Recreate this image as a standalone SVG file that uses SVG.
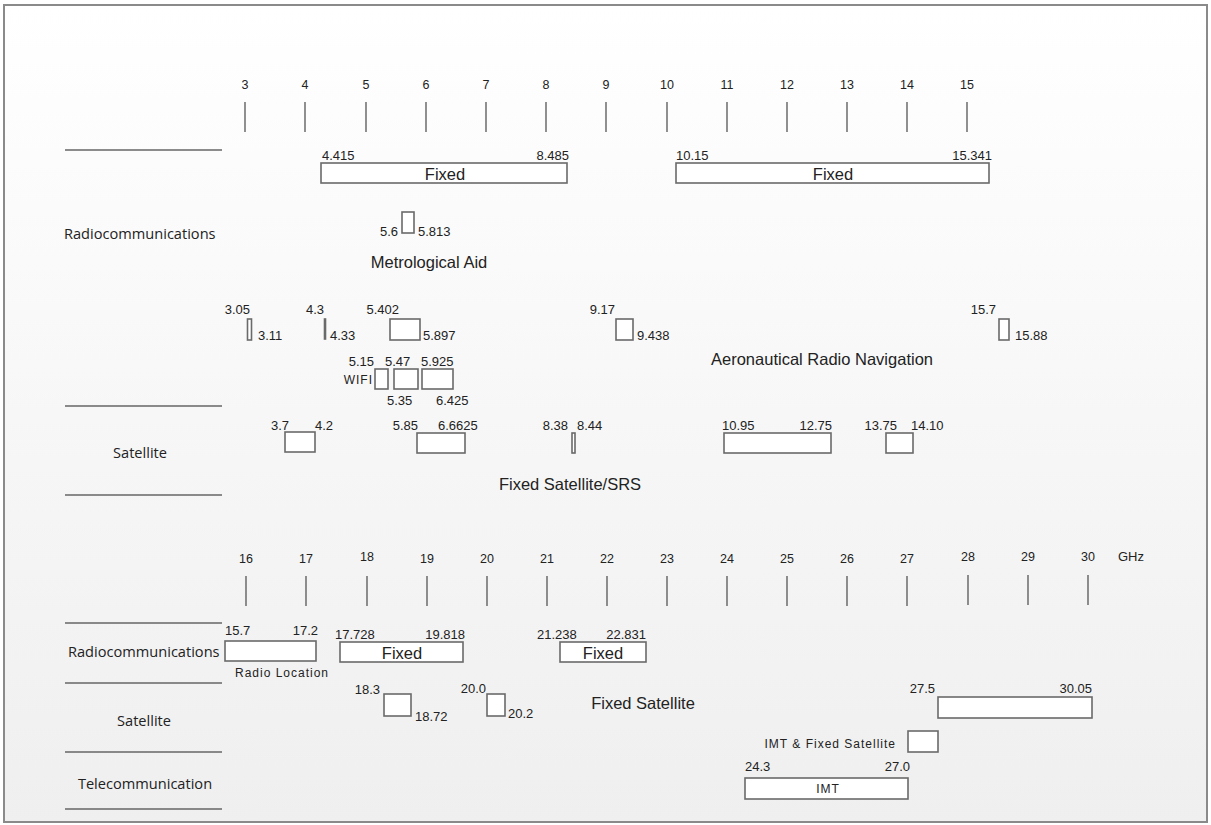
<svg xmlns="http://www.w3.org/2000/svg" width="1211" height="825" viewBox="0 0 1211 825">
<defs>
<linearGradient id="bg" x1="0" y1="0" x2="0" y2="1">
<stop offset="0" stop-color="#ffffff"/>
<stop offset="1" stop-color="#efefef"/>
</linearGradient>
<style>
.frame{fill:url(#bg);stroke:#8a8a8a;stroke-width:2}
.tick{stroke:#555;stroke-width:1.3}
.sep{stroke:#666;stroke-width:1.5}
.band{fill:#fff;stroke:#6a6a6a;stroke-width:1.6}
.n{font-family:"Liberation Sans",Arial,sans-serif;font-size:13px;fill:#222}
.ax{font-family:"Liberation Sans",Arial,sans-serif;font-size:12.5px;fill:#222;text-anchor:middle}
.cat{font-family:"Open Sans","DejaVu Sans",sans-serif;font-size:14.6px;fill:#222}
.lbl{font-family:"Liberation Sans",Arial,sans-serif;font-size:16.5px;fill:#222;text-anchor:middle}
.sm{font-family:"Liberation Sans",Arial,sans-serif;font-size:12px;letter-spacing:1px;fill:#222}
</style>
</defs>
<rect class="frame" x="4" y="5" width="1203" height="817"/>

<g id="axis-top">
<g class="ax">
<text x="245" y="89">3</text><text x="305" y="89">4</text><text x="366" y="89">5</text><text x="426" y="89">6</text><text x="486" y="89">7</text><text x="546" y="89">8</text><text x="606" y="89">9</text><text x="667" y="89">10</text><text x="727" y="89">11</text><text x="787" y="89">12</text><text x="847" y="89">13</text><text x="907" y="89">14</text><text x="967" y="89">15</text>
</g>
<g class="tick">
<line x1="245" y1="102" x2="245" y2="132"/><line x1="305" y1="102" x2="305" y2="132"/><line x1="366" y1="102" x2="366" y2="132"/><line x1="426" y1="102" x2="426" y2="132"/><line x1="486" y1="102" x2="486" y2="132"/><line x1="546" y1="102" x2="546" y2="132"/><line x1="606" y1="102" x2="606" y2="132"/><line x1="667" y1="102" x2="667" y2="132"/><line x1="727" y1="102" x2="727" y2="132"/><line x1="787" y1="102" x2="787" y2="132"/><line x1="847" y1="102" x2="847" y2="132"/><line x1="907" y1="102" x2="907" y2="132"/><line x1="967" y1="102" x2="967" y2="132"/>
</g>
</g>

<g id="axis-bottom">
<g class="ax">
<text x="246" y="563">16</text><text x="306" y="563">17</text><text x="367" y="561">18</text><text x="427" y="563">19</text><text x="487" y="563">20</text><text x="547" y="563">21</text><text x="607" y="563">22</text><text x="667" y="563">23</text><text x="727" y="563">24</text><text x="787" y="563">25</text><text x="847" y="563">26</text><text x="907" y="563">27</text><text x="968" y="561">28</text><text x="1028" y="561">29</text><text x="1088" y="561">30</text>
</g>
<text class="n" x="1118" y="561" font-size="12.5">GHz</text>
<g class="tick">
<line x1="246" y1="576" x2="246" y2="606"/><line x1="306" y1="576" x2="306" y2="606"/><line x1="367" y1="576" x2="367" y2="606"/><line x1="427" y1="576" x2="427" y2="606"/><line x1="487" y1="576" x2="487" y2="606"/><line x1="547" y1="576" x2="547" y2="606"/><line x1="607" y1="576" x2="607" y2="606"/><line x1="667" y1="576" x2="667" y2="606"/><line x1="727" y1="576" x2="727" y2="606"/><line x1="787" y1="576" x2="787" y2="606"/><line x1="847" y1="576" x2="847" y2="606"/><line x1="907" y1="576" x2="907" y2="606"/><line x1="968" y1="575" x2="968" y2="605"/><line x1="1028" y1="575" x2="1028" y2="605"/><line x1="1088" y1="575" x2="1088" y2="605"/>
</g>
</g>

<g id="categories">
<g class="sep">
<line x1="65" y1="150" x2="222" y2="150"/>
<line x1="65" y1="406" x2="222" y2="406"/>
<line x1="65" y1="495" x2="222" y2="495"/>
<line x1="65" y1="623" x2="222" y2="623"/>
<line x1="65" y1="683" x2="222" y2="683"/>
<line x1="65" y1="752" x2="222" y2="752"/>
<line x1="65" y1="809" x2="222" y2="809"/>
</g>
<text class="cat" x="64" y="239">Radiocommunications</text>
<text class="cat" x="140" y="458" text-anchor="middle">Satellite</text>
<text class="cat" x="68" y="657">Radiocommunications</text>
<text class="cat" x="144" y="726" text-anchor="middle">Satellite</text>
<text class="cat" x="145" y="789" text-anchor="middle">Telecommunication</text>
</g>

<g id="fixed-1">
<rect class="band" x="321" y="163" width="246" height="20"/>
<text class="n" x="322" y="160">4.415</text><text class="n" x="569" y="160" text-anchor="end">8.485</text>
<text class="lbl" x="445" y="180">Fixed</text>
</g>
<g id="fixed-2">
<rect class="band" x="676" y="163" width="313" height="20"/>
<text class="n" x="676" y="160">10.15</text><text class="n" x="992" y="160" text-anchor="end">15.341</text>
<text class="lbl" x="833" y="180">Fixed</text>
</g>

<g id="metrological-aid">
<rect class="band" x="402" y="212" width="12" height="21"/>
<text class="n" x="398" y="236" text-anchor="end">5.6</text><text class="n" x="418" y="236">5.813</text>
<text class="lbl" x="429" y="268">Metrological Aid</text>
</g>

<g id="aero-nav">
<rect class="band" x="247.5" y="319" width="4" height="21"/>
<text class="n" x="250" y="314" text-anchor="end">3.05</text><text class="n" x="258" y="340">3.11</text>
<rect class="band" x="324.5" y="319" width="1" height="20"/>
<text class="n" x="324" y="314" text-anchor="end">4.3</text><text class="n" x="330" y="340">4.33</text>
<rect class="band" x="390" y="319" width="30" height="21"/>
<text class="n" x="399" y="314" text-anchor="end">5.402</text><text class="n" x="423" y="340">5.897</text>
<rect class="band" x="616" y="319" width="17" height="21"/>
<text class="n" x="615" y="314" text-anchor="end">9.17</text><text class="n" x="637" y="340">9.438</text>
<rect class="band" x="999" y="319" width="10" height="21"/>
<text class="n" x="996" y="314" text-anchor="end">15.7</text><text class="n" x="1015" y="340">15.88</text>
<text class="lbl" x="822" y="365">Aeronautical Radio Navigation</text>
</g>

<g id="wifi">
<rect class="band" x="375" y="369" width="13" height="20"/>
<rect class="band" x="394" y="369" width="24" height="20"/>
<rect class="band" x="422" y="369" width="31" height="20"/>
<text class="n" x="374" y="366" text-anchor="end">5.15</text>
<text class="n" x="385" y="366">5.47</text>
<text class="n" x="421" y="366">5.925</text>
<text class="sm" x="373" y="384" text-anchor="end">WIFI</text>
<text class="n" x="387" y="405">5.35</text>
<text class="n" x="436" y="405">6.425</text>
</g>

<g id="fixed-satellite-srs">
<rect class="band" x="285" y="432" width="30" height="20"/>
<text class="n" x="289" y="430" text-anchor="end">3.7</text><text class="n" x="315" y="430">4.2</text>
<rect class="band" x="417" y="433" width="48" height="20"/>
<text class="n" x="418" y="430" text-anchor="end">5.85</text><text class="n" x="438" y="430">6.6625</text>
<rect class="band" x="572" y="433" width="3" height="20"/>
<text class="n" x="568" y="430" text-anchor="end">8.38</text><text class="n" x="577" y="430">8.44</text>
<rect class="band" x="724" y="433" width="107" height="20"/>
<text class="n" x="722" y="430">10.95</text><text class="n" x="832" y="430" text-anchor="end">12.75</text>
<rect class="band" x="886" y="433" width="27" height="20"/>
<text class="n" x="897" y="430" text-anchor="end">13.75</text><text class="n" x="911" y="430">14.10</text>
<text class="lbl" x="570" y="490">Fixed Satellite/SRS</text>
</g>

<g id="radio-location">
<rect class="band" x="225" y="641" width="91" height="20"/>
<text class="n" x="225" y="635">15.7</text><text class="n" x="318" y="635" text-anchor="end">17.2</text>
<text class="sm" x="282" y="677" text-anchor="middle">Radio Location</text>
</g>
<g id="fixed-3">
<rect class="band" x="340" y="642" width="123" height="20"/>
<text class="n" x="335" y="639">17.728</text><text class="n" x="465" y="639" text-anchor="end">19.818</text>
<text class="lbl" x="402" y="659">Fixed</text>
</g>
<g id="fixed-4">
<rect class="band" x="560" y="642" width="86" height="20"/>
<text class="n" x="537" y="639">21.238</text><text class="n" x="646" y="639" text-anchor="end">22.831</text>
<text class="lbl" x="603" y="659">Fixed</text>
</g>

<g id="fixed-satellite">
<rect class="band" x="384" y="694" width="27" height="22"/>
<text class="n" x="380" y="694" text-anchor="end">18.3</text><text class="n" x="415" y="721">18.72</text>
<rect class="band" x="487" y="694" width="18" height="22"/>
<text class="n" x="486" y="693" text-anchor="end">20.0</text><text class="n" x="508" y="718">20.2</text>
<text class="lbl" x="643" y="709">Fixed Satellite</text>
<rect class="band" x="938" y="697" width="154" height="21"/>
<text class="n" x="935" y="693" text-anchor="end">27.5</text><text class="n" x="1092" y="693" text-anchor="end">30.05</text>
</g>

<g id="imt-fixed-satellite">
<rect class="band" x="908" y="731" width="30" height="21"/>
<text class="sm" x="896" y="748" text-anchor="end">IMT &amp; Fixed Satellite</text>
</g>

<g id="imt">
<rect class="band" x="745" y="778" width="163" height="21"/>
<text class="n" x="745" y="771">24.3</text><text class="n" x="910" y="771" text-anchor="end">27.0</text>
<text class="sm" x="828" y="793" text-anchor="middle" font-size="10.5">IMT</text>
</g>
</svg>
